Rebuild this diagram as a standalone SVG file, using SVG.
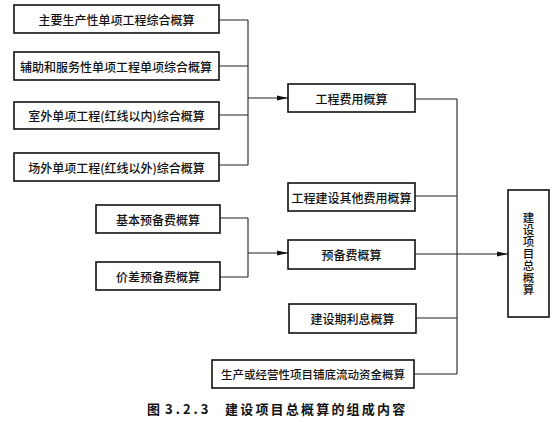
<svg xmlns="http://www.w3.org/2000/svg" width="554" height="422" viewBox="0 0 554 422">
<style>
.box{fill:#fff;stroke:#111;stroke-width:1.6}
.t{font-family:"Noto Sans CJK SC","Liberation Serif",serif;font-size:12px;font-weight:500;fill:#111;text-anchor:middle;dominant-baseline:central}
.ln{fill:none;stroke:#222;stroke-width:1.1}
.cap{font-family:"Noto Sans CJK SC","Liberation Serif",serif;font-size:13px;font-weight:bold;fill:#111}
</style>
<defs>
<marker id="ah" markerWidth="12" markerHeight="6" refX="11" refY="3" orient="auto" markerUnits="userSpaceOnUse">
<path d="M0,0.5 L11,3 L0,5.5 Z" fill="#111"/>
</marker>
</defs>
<rect width="554" height="422" fill="#fff"/>
<g id="connectors">
<path class="ln" d="M219,20 H248 M219,66 H248 M219,115 H248 M219,165 H248 M248,20 V165"/>
<path class="ln" d="M248,98 H288" marker-end="url(#ah)"/>
<path class="ln" d="M220,218 H248 M220,277 H248 M248,218 V277"/>
<path class="ln" d="M248,253 H288" marker-end="url(#ah)"/>
<path class="ln" d="M415,99 H457 M415,196 H457 M416,318 H457 M414,374 H457 M457,99 V374"/>
<path class="ln" d="M415,254 H508" marker-end="url(#ah)"/>
</g>
<g id="n1"><rect class="box" x="14" y="5" width="205" height="28"/><text class="t" x="116.5" y="19">主要生产性单项工程综合概算</text></g>
<g id="n2"><rect class="box" x="14" y="52" width="205" height="28"/><text class="t" x="116" y="66">辅助和服务性单项工程单项综合概算</text></g>
<g id="n3"><rect class="box" x="14" y="102" width="205" height="27"/><text class="t" x="116.5" y="115.5">室外单项工程(红线以内)综合概算</text></g>
<g id="n4"><rect class="box" x="14" y="153" width="205" height="28"/><text class="t" x="116.5" y="167">场外单项工程(红线以外)综合概算</text></g>
<g id="n5"><rect class="box" x="96" y="205" width="124" height="28"/><text class="t" x="158" y="219">基本预备费概算</text></g>
<g id="n6"><rect class="box" x="96" y="262" width="124" height="28"/><text class="t" x="158" y="276">价差预备费概算</text></g>
<g id="n7"><rect class="box" x="288" y="84" width="127" height="28"/><text class="t" x="351.5" y="98">工程费用概算</text></g>
<g id="n8"><rect class="box" x="288" y="183" width="127" height="28"/><text class="t" x="351.5" y="197">工程建设其他费用概算</text></g>
<g id="n9"><rect class="box" x="288" y="240" width="127" height="29"/><text class="t" x="351.5" y="254">预备费概算</text></g>
<g id="n10"><rect class="box" x="289" y="304" width="127" height="29"/><text class="t" x="352.5" y="318">建设期利息概算</text></g>
<g id="n11"><rect class="box" x="212" y="360" width="202" height="28"/><text class="t" x="313" y="374" style="font-size:11.5px">生产或经营性项目铺底流动资金概算</text></g>
<g id="n12"><rect class="box" x="508" y="190" width="41" height="127"/>
<text class="t" x="528.5" y="254" style="writing-mode:vertical-rl;dominant-baseline:auto;font-size:11.5px" letter-spacing="0.5">建设项目总概算</text>
</g>
<g id="caption">
<text class="cap" x="147" y="414">图</text>
<text class="cap" x="165" y="414" letter-spacing="3">3.2.3</text>
<text class="cap" x="225" y="414" letter-spacing="2.2">建设项目总概算的组成内容</text>
</g>
</svg>
